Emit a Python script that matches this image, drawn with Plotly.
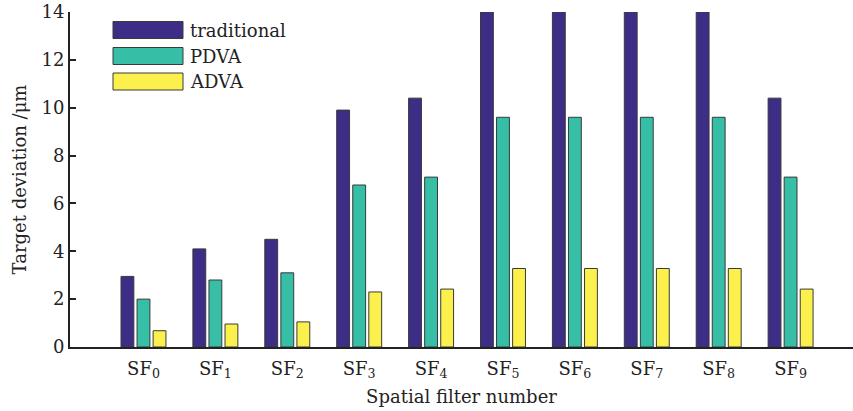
import plotly.graph_objects as go

categories = ["SF<sub>0</sub>", "SF<sub>1</sub>", "SF<sub>2</sub>", "SF<sub>3</sub>", "SF<sub>4</sub>",
              "SF<sub>5</sub>", "SF<sub>6</sub>", "SF<sub>7</sub>", "SF<sub>8</sub>", "SF<sub>9</sub>"]
traditional = [2.95, 4.1, 4.5, 9.9, 10.4, 14, 14, 14, 14, 10.4]
pdva = [2.0, 2.8, 3.1, 6.77, 7.1, 9.6, 9.6, 9.6, 9.6, 7.1]
adva = [0.68, 0.96, 1.05, 2.3, 2.42, 3.28, 3.28, 3.28, 3.28, 2.42]
series_names = ["traditional", "PDVA", "ADVA"]
colors = ["#3d2d86", "#36bea6", "#fcf04c"]

W, H = 853, 411
ML, MR, MT, MB = 70, 0, 12, 64
FONT = "DejaVu Serif"

x = list(range(len(categories)))
fig = go.Figure()
for name, vals, c in zip(series_names, [traditional, pdva, adva], colors):
    fig.add_trace(go.Bar(x=x, y=vals, name=name, marker=dict(color=c, line=dict(color="#3a3a3a", width=1)),
                         showlegend=False))

# manual legend (wide swatches)
pw = W - ML - MR
ph = H - MT - MB
def px2x(p): return (p - ML) / pw
def py2y(p): return (H - MB - p) / ph
shapes = []
annotations = []
rows = [30, 56, 81.5]
for name, c, yc in zip(series_names, colors, rows):
    shapes.append(dict(type="rect", xref="paper", yref="paper",
                       x0=px2x(113), x1=px2x(183), y0=py2y(yc + 8.5), y1=py2y(yc - 8.5),
                       fillcolor=c, line=dict(color="#3a3a3a", width=1)))
    annotations.append(dict(xref="paper", yref="paper", x=px2x(188), y=py2y(yc), text=name,
                            showarrow=False, xanchor="left", yanchor="middle",
                            font=dict(family=FONT, size=18, color="#222")))

fig.update_layout(
    width=W, height=H,
    margin=dict(l=ML, r=MR, t=MT, b=MB, autoexpand=False),
    paper_bgcolor="white", plot_bgcolor="white",
    barmode="group", bargap=0.33, bargroupgap=0.2,
    font=dict(family=FONT, size=18, color="#222"),
    shapes=shapes, annotations=annotations,
    xaxis=dict(range=[-1.022, 9.868], tickmode="array", tickvals=x, ticktext=categories,
               showline=True, linecolor="#222", linewidth=2, ticks="outside", ticklen=4,
               tickcolor="rgba(0,0,0,0)", showgrid=False, zeroline=False, automargin=False,
               title=dict(text="Spatial filter number", standoff=10, font=dict(family=FONT, size=18)),
               tickfont=dict(family=FONT, size=18)),
    yaxis=dict(range=[0, 14], tickmode="array", tickvals=[0, 2, 4, 6, 8, 10, 12, 14],
               showline=True, linecolor="#222", linewidth=2, ticks="inside", ticklen=6, tickwidth=2,
               tickcolor="#222", showgrid=False, zeroline=False, automargin=False,
               title=dict(text="Target deviation /μm", standoff=10, font=dict(family=FONT, size=18)),
               tickfont=dict(family=FONT, size=18)),
)
fig.write_html("out.html", config={"displayModeBar": False},
               post_script="document.body.style.margin='0';document.body.style.overflow='hidden';")
